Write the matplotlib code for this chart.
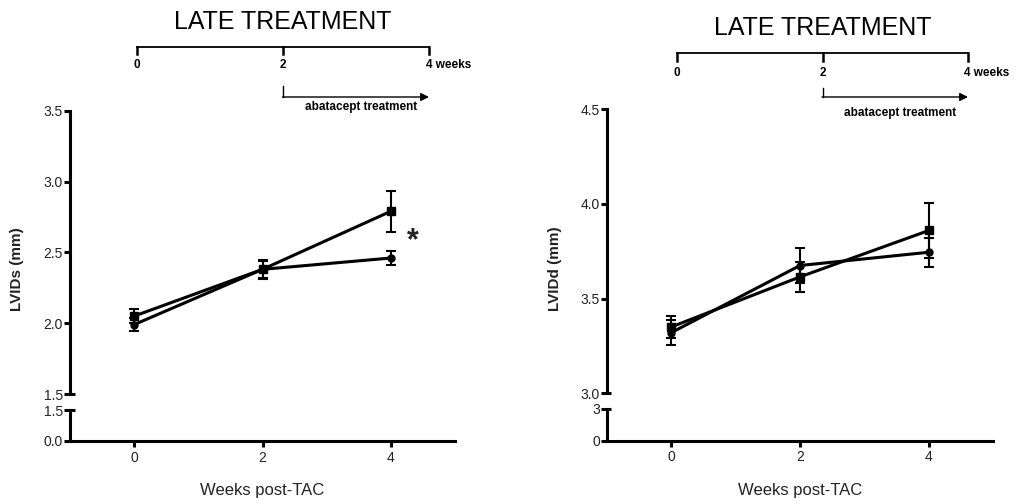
import matplotlib
matplotlib.use("Agg")
import matplotlib.pyplot as plt

plt.rcParams['font.family'] = ['Liberation Sans', 'DejaVu Sans']

# --- data ---
weeks = [0, 2, 4]

lvids_sq = [2.05, 2.38, 2.79]
lvids_sq_err = [0.05, 0.065, 0.145]
lvids_ci = [1.99, 2.38, 2.46]
lvids_ci_err = [0.045, 0.06, 0.05]

lvidd_sq = [3.35, 3.615, 3.86]
lvidd_sq_err = [0.06, 0.08, 0.143]
lvidd_ci = [3.32, 3.675, 3.745]
lvidd_ci_err = [0.065, 0.09, 0.077]

left_upper_ticks = [1.5, 2.0, 2.5, 3.0, 3.5]
left_lower_ticks = [0.0, 1.5]
right_upper_ticks = [3.0, 3.5, 4.0, 4.5]
right_lower_ticks = [0, 3]

W, H = 1017, 504
fig = plt.figure(figsize=(W / 100, H / 100), dpi=100)

LW = 2.2
TICKC = '#222222'


def px(x0, y0, x1, y1):
    # pixel box -> figure fraction rect
    return [x0 / W, 1 - y1 / H, (x1 - x0) / W, (y1 - y0) / H]


def panel(xl, xr, up_top, up_bot, lo_top, lo_bot, sq, sq_err, ci, ci_err,
          up_ticks, up_fmt, lo_ticks, lo_fmt, ylabel, ylabel_xy):
    ax = fig.add_axes(px(xl, up_top, xr, up_bot))
    axl = fig.add_axes(px(xl, lo_top, xr, lo_bot))

    for a in (ax, axl):
        a.set_xlim(-1, 5)
        for s in ('top', 'right'):
            a.spines[s].set_visible(False)
        a.spines['left'].set_linewidth(LW)
        a.spines['bottom'].set_linewidth(LW)
        a.tick_params(width=LW, length=4, labelsize=10, colors='k',
                      labelcolor=TICKC, pad=1)
        a.patch.set_alpha(0)

    ax.spines['bottom'].set_visible(False)
    ax.tick_params(axis='x', bottom=False, labelbottom=False)
    ax.set_ylim(up_ticks[0], up_ticks[-1])
    ax.set_yticks(up_ticks)
    ax.set_yticklabels([up_fmt.format(v) for v in up_ticks])

    axl.set_ylim(lo_ticks[0], lo_ticks[-1])
    axl.set_yticks(lo_ticks)
    axl.set_yticklabels([lo_fmt.format(v) for v in lo_ticks])
    axl.set_xticks(weeks)
    axl.set_xticklabels([str(w) for w in weeks])
    axl.tick_params(axis='x', pad=3)

    # small caps at the axis break
    ax.plot([0, 0.012], [0, 0], transform=ax.transAxes, color='k', lw=LW,
            clip_on=False, solid_capstyle='butt')
    axl.plot([0, 0.012], [1, 1], transform=axl.transAxes, color='k', lw=LW,
             clip_on=False, solid_capstyle='butt')

    ax.errorbar(weeks, sq, yerr=sq_err, color='k', lw=LW, marker='s',
                markersize=5.5, elinewidth=1.5, capsize=3.5, capthick=1.5,
                clip_on=False, zorder=3)
    ax.errorbar(weeks, ci, yerr=ci_err, color='k', lw=LW, marker='o',
                markersize=5, elinewidth=1.5, capsize=3.5, capthick=1.5,
                clip_on=False, zorder=3)

    fig.text(ylabel_xy[0] / W, 1 - ylabel_xy[1] / H, ylabel, rotation=90,
             ha='center', va='center', fontsize=11, fontweight='bold',
             color=TICKC)
    fig.text((xl + xr) / 2 / W, 1 - 490 / H,
             'Weeks post-TAC', ha='center', va='center', fontsize=12,
             color=TICKC)
    return ax, axl


axA, _ = panel(70, 455, 110.7, 394, 410, 441, lvids_sq, lvids_sq_err,
               lvids_ci, lvids_ci_err, left_upper_ticks, '{:.1f}',
               left_lower_ticks, '{:.1f}', 'LVIDs (mm)', (17, 269))
axB, _ = panel(606.7, 993.3, 109.3, 393.3, 409, 440.7, lvidd_sq, lvidd_sq_err,
               lvidd_ci, lvidd_ci_err, right_upper_ticks, '{:.1f}',
               right_lower_ticks, '{:d}', 'LVIDd (mm)', (555, 269))

axA.text(4.35, 2.58, '*', ha='center', va='center', fontsize=22,
         fontweight='bold', color='#222222')

# --- treatment timelines (figure overlay in pixel coords) ---
ov = fig.add_axes([0, 0, 1, 1])
ov.set_xlim(0, W)
ov.set_ylim(H, 0)
ov.axis('off')
ov.patch.set_alpha(0)


def timeline(x0, x1, ly, tick_len, label_y, title_y, arr_top, arr_y, txt_y):
    xm = (x0 + x1) / 2
    ov.text(xm, title_y, 'LATE TREATMENT', ha='center', va='center',
            fontsize=18)
    ov.plot([x0, x1], [ly, ly], color='k', lw=1.3)
    for x in (x0, xm, x1):
        ov.plot([x, x], [ly, ly + tick_len], color='k', lw=1.8)
    ov.text(x0, label_y, '0', ha='center', va='center', fontsize=8.5,
            fontweight='bold')
    ov.text(xm, label_y, '2', ha='center', va='center', fontsize=8.5,
            fontweight='bold')
    ov.text(x1 - 3.5, label_y, '4 weeks', ha='left', va='center',
            fontsize=8.5, fontweight='bold')
    ov.plot([xm, xm], [arr_top, arr_y], color='k', lw=1.0)
    ov.annotate('', xy=(x1, arr_y), xytext=(xm - 0.5, arr_y),
                arrowprops=dict(arrowstyle='-|>', color='k', lw=1.0,
                                mutation_scale=12, shrinkA=0, shrinkB=0))
    ov.text((xm + x1) / 2 + 5, txt_y, 'abatacept treatment', ha='center',
            va='center', fontsize=8.5, fontweight='bold')


timeline(137, 429, 47, 6.5, 65, 21.7, 86, 97, 107)
timeline(677, 968, 53, 8, 73, 28, 88, 97, 113)

fig.savefig('out.png', dpi=100)
